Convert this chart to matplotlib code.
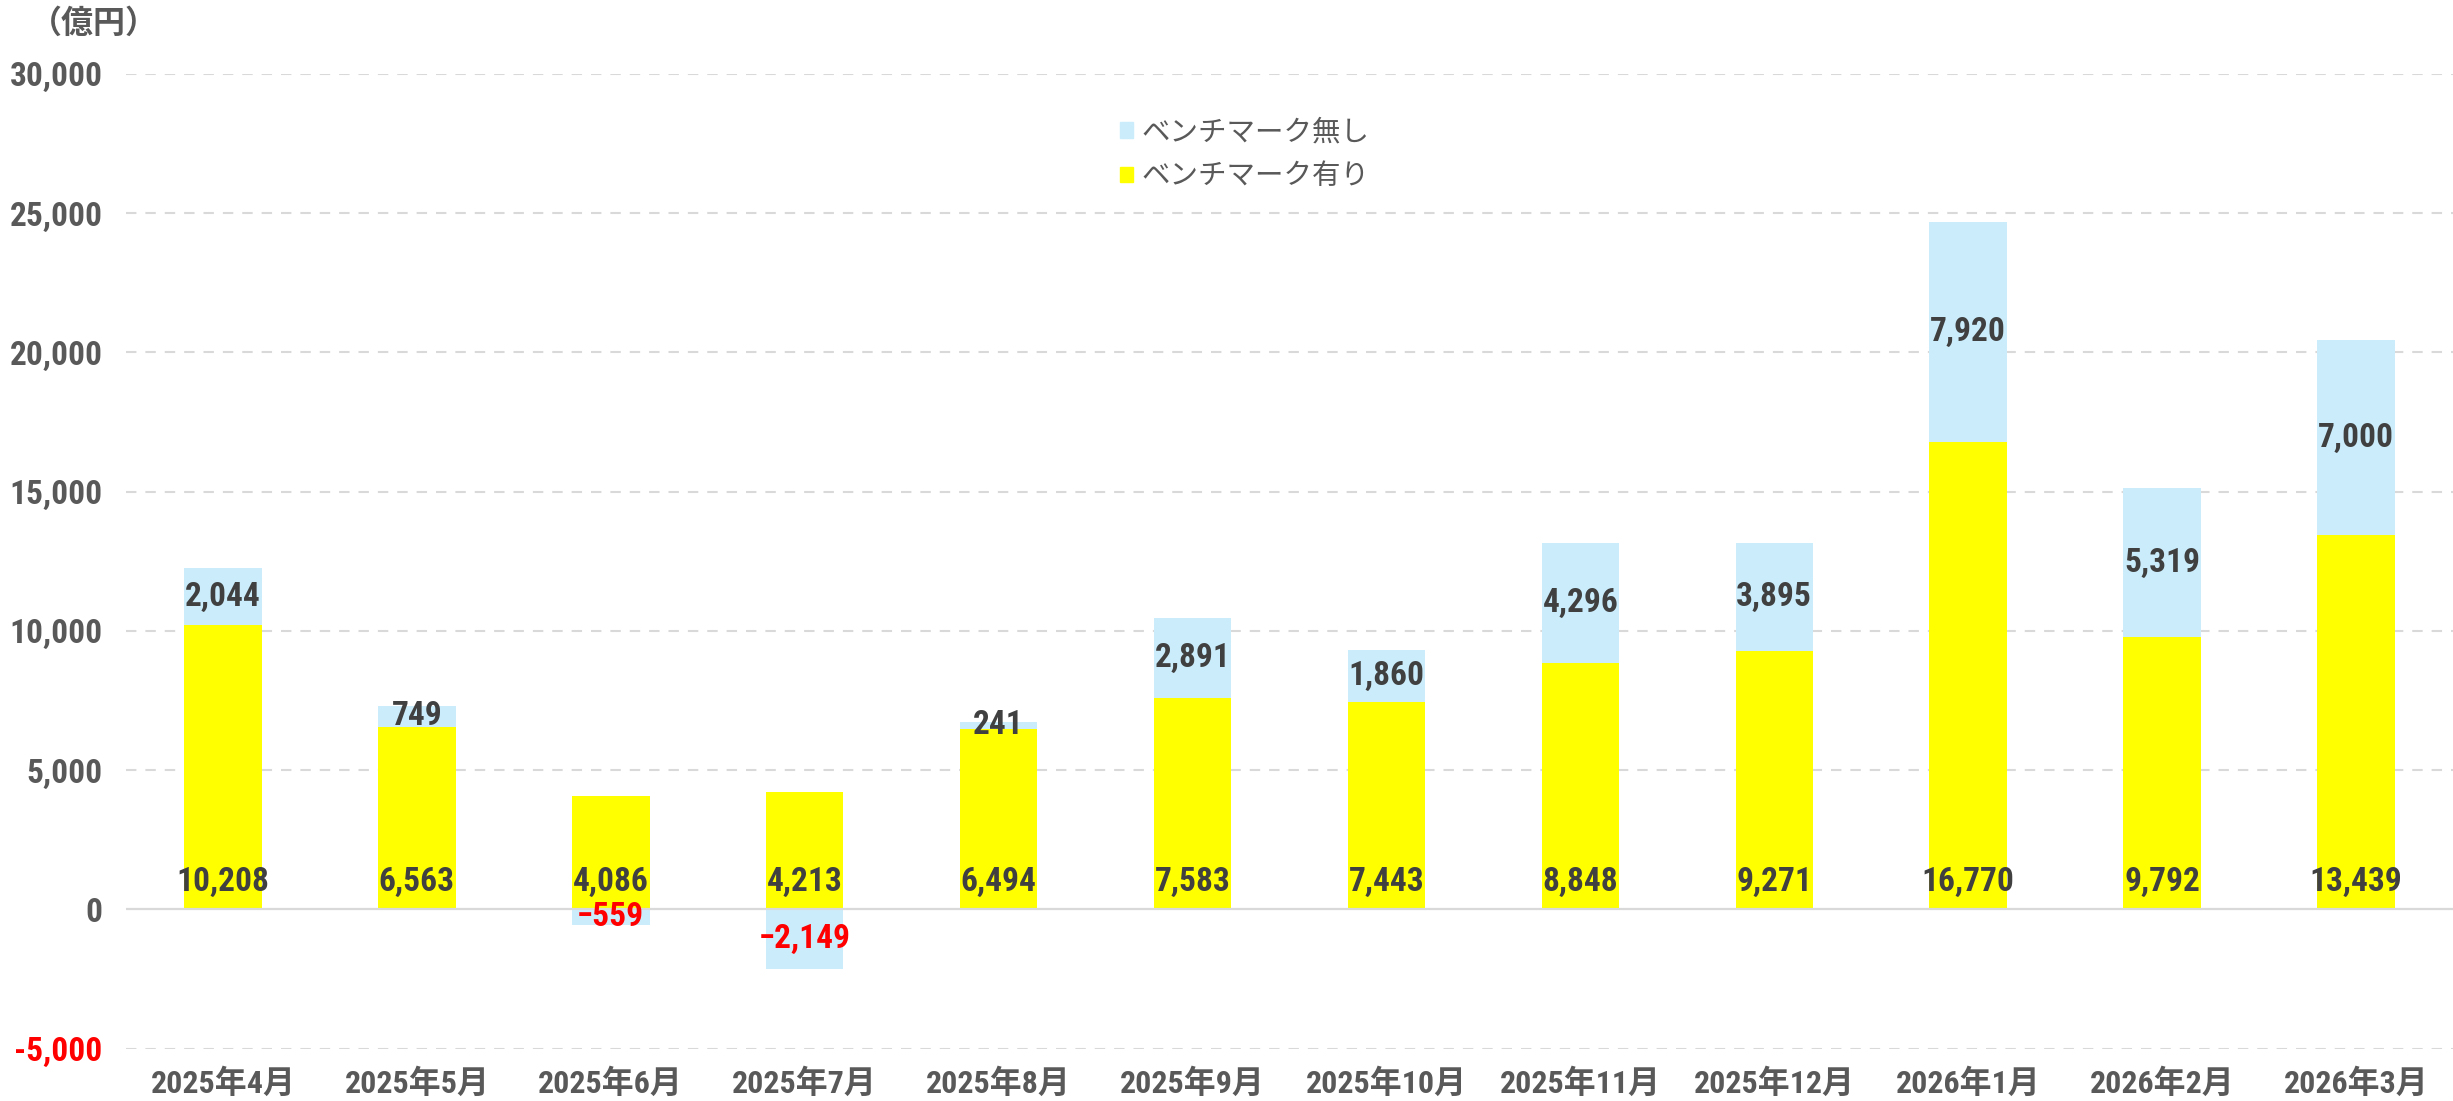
import matplotlib
matplotlib.use('Agg')
import matplotlib.pyplot as plt
from matplotlib.patches import Patch
import numpy as np

months = ['2025年4月', '2025年5月', '2025年6月', '2025年7月', '2025年8月', '2025年9月',
          '2025年10月', '2025年11月', '2025年12月', '2026年1月', '2026年2月', '2026年3月']
with_bm = [10208, 6563, 4086, 4213, 6494, 7583, 7443, 8848, 9271, 16770, 9792, 13439]
without_bm = [2044, 749, -559, -2149, 241, 2891, 1860, 4296, 3895, 7920, 5319, 7000]
y_ticks = [-5000, 0, 5000, 10000, 15000, 20000, 25000, 30000]

YELLOW = '#FFFF00'
BLUE = '#CBEDFB'
GRAY = '#595959'
DARK = '#404040'
RED = '#FF0000'

# condensed face for the digits, CJK face for 年/月
NUM_FONT = ['Roboto Condensed', 'Liberation Sans Narrow', 'Noto Sans CJK JP', 'DejaVu Sans']
JP_FONT = ['Noto Sans CJK JP', 'DejaVu Sans']

plt.rcParams['font.family'] = NUM_FONT

fig = plt.figure(figsize=(24.53, 11.01), dpi=100)
ax = fig.add_axes([126 / 2453, 1 - 1048.7 / 1101, 1 - 126 / 2453, (1048.7 - 73.7) / 1101])

x = np.arange(len(months))
yv = np.array(with_bm)
bv = np.array(without_bm)
w = 0.40

ax.bar(x, yv, width=w, color=YELLOW, zorder=3)
ax.bar(x, bv, width=w, bottom=np.where(bv > 0, yv, 0), color=BLUE, zorder=3)

ax.set_xlim(-0.5, len(months) - 0.5)
ax.set_ylim(-5000, 30000)
ax.set_yticks(y_ticks)
ax.set_yticklabels([f'{v:,}' for v in y_ticks], fontsize=24, fontweight='bold', color=GRAY)
for t, v in zip(ax.get_yticklabels(), y_ticks):
    if v < 0:
        t.set_color(RED)
ax.set_xticks(x)
ax.set_xticklabels(months, fontsize=23, fontweight='bold', color=GRAY)
ax.tick_params(axis='y', length=0, pad=17)
ax.tick_params(axis='x', length=0, pad=14)

for s in ax.spines.values():
    s.set_visible(False)
for v in y_ticks:
    if v != 0:
        ax.axhline(v, color='#D9D9D9', lw=1.5, dashes=(5, 4.3), zorder=1)
ax.axhline(0, color='#D9D9D9', lw=1.6, zorder=4)

# labels: yellow at bar base, blue centred in segment
for i in range(len(months)):
    ax.annotate(f'{yv[i]:,}', (x[i], 0), xytext=(0, 13.4), textcoords='offset points',
                ha='center', va='baseline', fontsize=24, fontweight='bold', color=DARK, zorder=5)
    base = yv[i] if bv[i] > 0 else 0
    ax.text(x[i], base + bv[i] / 2, f'{bv[i]:,}'.replace('-', '−'), ha='center', va='center',
            fontsize=24, fontweight='bold', color=RED if bv[i] < 0 else DARK, zorder=5)

handles = [Patch(color=BLUE), Patch(color=YELLOW)]
ax.legend(handles, ['ベンチマーク無し', 'ベンチマーク有り'], loc='upper left',
          bbox_to_anchor=(1106 / 2453, 1 - 103 / 1101), bbox_transform=fig.transFigure,
          frameon=False, borderpad=0, handlelength=0.45, handleheight=0.45,
          handletextpad=0.3, labelspacing=0.5, labelcolor=GRAY,
          prop={'family': JP_FONT, 'size': 20.5})

fig.text(30 / 2453, 1 - 24 / 1101, '（億円）', ha='left', va='center', fontsize=23,
         fontweight='bold', color=GRAY, family=JP_FONT)

fig.savefig('out.png', dpi=100)
